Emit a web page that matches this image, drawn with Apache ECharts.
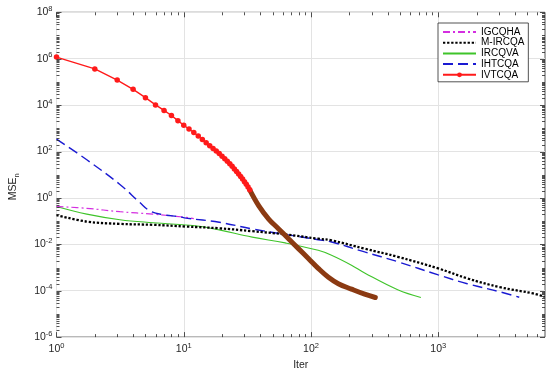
<!DOCTYPE html>
<html><head><meta charset="utf-8">
<script src="https://cdn.jsdelivr.net/npm/echarts@6/dist/echarts.min.js"></script>
<style>html,body{margin:0;padding:0;background:#fff}#c{width:550px;height:376px}</style>
</head><body><div id="c"></div>
<script>
// ---- data ----
const iterIVT = [1,2,3,4,5,6,7,8,9,10,11,12,13,14,15,16,17,18,19,20,21,22,23,24,25,26,27,28,29,30,31,32,33];
const mseIVT = [1.175e6,3.63e5,1.2e5,4.79e4,2.09e4,1.02e4,5890,3550,2140,1350,933,661,468,331,240,178,135,105,81.3,63.1,49,38,29.5,22.9,17.8,13.8,10.7,8.32,6.46,5.01,3.89,2.95,2.24];
const iterIVTtail = [33,38.9,46.5,55.7,66.6,79.7,95.4,114,137,164,208,264,320];
const mseIVTtail = [2.24,0.457,0.123,0.0461,0.0173,0.0065,0.00244,9.2e-4,3.8e-4,2.0e-4,1.17e-4,7.1e-5,5.1e-5];

const iterIHT = [1,1.73,3.15,4.52,5.4,6.86,9.25,10.4,19,34.5,62.7,114,145,264,480,1000,1690,3060,4330];
const mseIHT = [344,44,3.8,0.63,0.28,0.19,0.155,0.135,0.089,0.046,0.0267,0.0158,0.0126,0.00468,0.00178,4.8e-4,2.0e-4,8.9e-5,5.2e-5];

const iterMIR = [1,1.73,3.15,5.73,10.4,19,34.5,62.7,114,145,264,480,1000,1690,3060,5570,6870];
const mseMIR = [0.182,0.0955,0.0759,0.0692,0.0583,0.049,0.0368,0.0267,0.0174,0.0148,0.00646,0.00288,9.1e-4,3.4e-4,1.41e-4,7.6e-5,5.4e-5];

const iterIRC = [1,1.73,3.15,5.73,10.4,13.2,19,34.5,62.7,114,145,208,264,480,730];
const mseIRC = [0.427,0.2,0.115,0.085,0.0676,0.0603,0.0417,0.0204,0.0115,0.0055,0.00339,0.00126,5.8e-4,1.1e-4,5.1e-5];

const iterIGC = [1,1.73,3.15,5.73,10.4,12];
const mseIGC = [0.427,0.355,0.254,0.2,0.145,0.128];

const seriesNames = ['IGCQHA','M-IRCQA','IRCQVA','IHTCQA','IVTCQA'];
const xMajor = [1,10,100,1000];
const yMajor = [1e-6,1e-4,1e-2,1,1e2,1e4,1e6,1e8];
const xMinor = [2,3,4,5,6,7,8,9,20,30,40,50,60,70,80,90,200,300,400,500,600,700,800,900,2000,3000,4000,5000,6000];
const yDecades = [-6,-5,-4,-3,-2,-1,0,1,2,3,4,5,6,7];
const yMult = [1,2,3,4,5,6,7,8,9];

// ---- build ----
const FF = 'Liberation Sans, Arial, Helvetica, sans-serif';
const TXT = '#262626';
const pair = (xs, ys) => xs.map((x, i) => [x, ys[i]]);
const isMajorY = v => yMajor.some(m => Math.abs(Math.log10(m) - Math.log10(v)) < 1e-9);
const yTicks = [];
yDecades.forEach(d => yMult.forEach(k => { const v = k * Math.pow(10, d); if (v <= 1e8) yTicks.push([1, v, isMajorY(v) ? 5 : 3]); }));
yTicks.push([1, 1e8, 5]);
const xTicks = xMajor.map(v => [v, 1, 5]).concat(xMinor.map(v => [v, 1, 3]));

function powLabel(v) {
  const e = Math.round(Math.log10(v));
  return '{b|10}{s|' + e + '}';
}
const labelRich = {
  b: { fontSize: 10.5, fontFamily: FF, color: TXT, lineHeight: 15 },
  s: { fontSize: 7.5, fontFamily: FF, color: TXT, lineHeight: 6, verticalAlign: 'top' }
};
const tickStyle = { stroke: TXT, lineWidth: 0.8 };
function renderXTick(params, api) {
  const cs = params.coordSys;
  const p = Math.round(api.coord([api.value(0), api.value(1)])[0]) + 0.5;
  const len = api.value(2);
  return { type: 'group', children: [
    { type: 'line', shape: { x1: p, y1: cs.y + cs.height, x2: p, y2: cs.y + cs.height - len }, style: tickStyle },
    { type: 'line', shape: { x1: p, y1: cs.y, x2: p, y2: cs.y + len }, style: tickStyle }
  ]};
}
function renderYTick(params, api) {
  const cs = params.coordSys;
  const p = Math.round(api.coord([api.value(0), api.value(1)])[1]) + 0.5;
  const len = api.value(2);
  return { type: 'group', children: [
    { type: 'line', shape: { x1: cs.x, y1: p, x2: cs.x + len, y2: p }, style: tickStyle },
    { type: 'line', shape: { x1: cs.x + cs.width, y1: p, x2: cs.x + cs.width - len, y2: p }, style: tickStyle }
  ]};
}
const noMarker = { opacity: 0 };
const legendData = seriesNames.map(n => n === 'IVTCQA' ? { name: n } : { name: n, itemStyle: noMarker });

const chart = echarts.init(document.getElementById('c'), null, { renderer: 'canvas' });
chart.setOption({
  animation: false,
  backgroundColor: '#fff',
  grid: { left: 52.7, right: 5, top: 12.3, bottom: 34.7, show: true, borderColor: TXT, borderWidth: 0.8, backgroundColor: 'transparent' },
  legend: {
    data: legendData, orient: 'vertical', left: 438, top: 23,
    backgroundColor: '#fff', borderColor: TXT, borderWidth: 0.8, borderRadius: 0,
    padding: [4, 4, 2, 4], itemWidth: 33, itemHeight: 6, itemGap: 0.7,
    textStyle: { fontSize: 10, fontFamily: FF, color: '#000', lineHeight: 9 }
  },
  xAxis: {
    type: 'log', logBase: 10, min: 1, max: 6900,
    name: 'Iter', nameLocation: 'middle', nameGap: 19,
    nameTextStyle: { fontSize: 10.5, fontFamily: FF, color: TXT },
    axisLine: { show: false },
    axisTick: { show: false, customValues: xMajor },
    axisLabel: { customValues: xMajor, formatter: powLabel, rich: labelRich, margin: 5 },
    splitLine: { show: true, lineStyle: { color: '#e3e3e3', width: 1 } }
  },
  yAxis: {
    type: 'log', logBase: 10, min: 1e-6, max: 1e8,
    name: '{m|MSE}{n|n}', nameLocation: 'middle', nameGap: 36,
    nameTextStyle: { padding: [0, 24, 0, 0], rich: {
      m: { fontSize: 10.5, fontFamily: FF, color: TXT, lineHeight: 14 },
      n: { fontSize: 7.5, fontFamily: FF, color: TXT, lineHeight: 6, verticalAlign: 'bottom' }
    } },
    axisLine: { show: false },
    axisTick: { show: false, customValues: yMajor },
    axisLabel: { customValues: yMajor, formatter: powLabel, rich: labelRich, margin: 4 },
    splitLine: { show: true, lineStyle: { color: '#e3e3e3', width: 1 } }
  },
  series: [
    { name: 'IRCQVA', type: 'line', data: pair(iterIRC, mseIRC), symbol: 'none', smooth: 0.4, z: 3,
      lineStyle: { color: '#3fc42a', width: 1.1 }, itemStyle: { color: '#3fc42a' } },
    { name: 'IGCQHA', type: 'line', data: pair(iterIGC, mseIGC), symbol: 'none', smooth: 0.4, z: 3,
      lineStyle: { color: '#d42ee0', width: 1.2, type: [7, 3, 2, 3] }, itemStyle: { color: '#e020e0' } },
    { name: 'IHTCQA', type: 'line', data: pair(iterIHT, mseIHT), symbol: 'none', smooth: 0.4, z: 4,
      lineStyle: { color: '#1a1ad2', width: 1.4, type: [10, 5] }, itemStyle: { color: '#1a1ad2' } },
    { name: 'M-IRCQA', type: 'line', data: pair(iterMIR, mseMIR), symbol: 'none', smooth: 0.4, z: 5,
      lineStyle: { color: '#000', width: 2.3, type: [2.3, 1.8] }, itemStyle: { color: '#000' } },
    { name: 'IVTCQA', type: 'line', data: pair(iterIVT, mseIVT), symbol: 'circle', symbolSize: 5.5, showAllSymbol: true, z: 6,
      lineStyle: { color: '#ff1a1a', width: 1.4 }, itemStyle: { color: '#ff1a1a' } },
    { name: 'IVTCQA', type: 'line', data: pair(iterIVTtail, mseIVTtail), symbol: 'none', smooth: 0.4, z: 6,
      lineStyle: { color: '#8b3a12', width: 5, cap: 'round' }, itemStyle: { color: '#8b3a12' } },
    { type: 'custom', data: xTicks, renderItem: renderXTick, silent: true, clip: false, z: 7 },
    { type: 'custom', data: yTicks, renderItem: renderYTick, silent: true, clip: false, z: 7 }
  ]
});
</script></body></html>
